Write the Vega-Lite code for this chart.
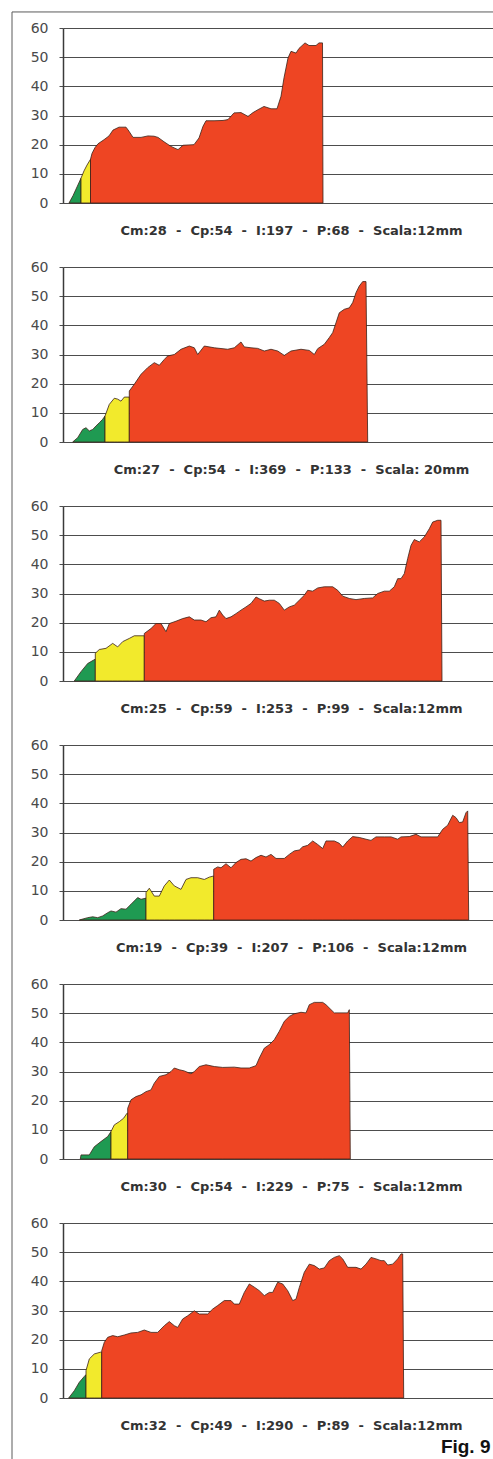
{
"$schema": "https://vega.github.io/schema/vega-lite/v6.json",
"padding": {"left": 11, "top": 11, "right": 0, "bottom": 0},
"background": "white",
"bounds": "flush",
"spacing": 64,
"config": {
  "view": {"stroke": null},
  "axisY": {"domainColor": "#3a3a3a", "domainWidth": 1.5, "gridColor": "#4d4d4d", "gridWidth": 1.2, "tickColor": "#4d4d4d", "tickSize": 4, "labelFont": "DejaVu Sans", "labelFontSize": 14, "labelColor": "#4a4a4a", "labelPadding": 11},
  "axisX": {"domainColor": "#4d4d4d", "domainWidth": 1.2, "titleFont": "DejaVu Sans", "titleFontSize": 13, "titleFontWeight": "bold", "titleColor": "#333333", "titlePadding": 21, "titleX": 228}
},
"title": {"text": "Fig. 9", "orient": "bottom", "anchor": "end", "baseline": "top", "font": "Liberation Sans Narrow, Liberation Sans", "fontSize": 19, "fontWeight": "bold", "color": "#111111", "offset": -24, "dx": -4},
"datasets": {"profiles": [
{"p":1,"z":"verde","x":6,"y":0},{"p":1,"z":"verde","x":10,"y":2.5},{"p":1,"z":"verde","x":14,"y":5.5},{"p":1,"z":"verde","x":18,"y":8.5},
{"p":1,"z":"giallo","x":18,"y":8.5},{"p":1,"z":"giallo","x":21,"y":11},{"p":1,"z":"giallo","x":24,"y":13},{"p":1,"z":"giallo","x":27.5,"y":15},
{"p":1,"z":"rosso","x":27.5,"y":15},{"p":1,"z":"rosso","x":29,"y":17},{"p":1,"z":"rosso","x":32,"y":19},{"p":1,"z":"rosso","x":35,"y":20.3},{"p":1,"z":"rosso","x":41,"y":21.7},{"p":1,"z":"rosso","x":46,"y":23},{"p":1,"z":"rosso","x":50,"y":25},{"p":1,"z":"rosso","x":56,"y":26},{"p":1,"z":"rosso","x":63,"y":26},{"p":1,"z":"rosso","x":66,"y":24.6},{"p":1,"z":"rosso","x":70,"y":22.5},{"p":1,"z":"rosso","x":78,"y":22.5},{"p":1,"z":"rosso","x":85,"y":23},{"p":1,"z":"rosso","x":91,"y":22.9},{"p":1,"z":"rosso","x":95,"y":22.5},{"p":1,"z":"rosso","x":101,"y":21},{"p":1,"z":"rosso","x":108,"y":19.4},{"p":1,"z":"rosso","x":115,"y":18.3},{"p":1,"z":"rosso","x":120,"y":19.8},{"p":1,"z":"rosso","x":131,"y":20},{"p":1,"z":"rosso","x":136,"y":22.3},{"p":1,"z":"rosso","x":140,"y":26.3},{"p":1,"z":"rosso","x":143,"y":28.2},{"p":1,"z":"rosso","x":151,"y":28.2},{"p":1,"z":"rosso","x":160,"y":28.3},{"p":1,"z":"rosso","x":165,"y":28.6},{"p":1,"z":"rosso","x":171,"y":30.9},{"p":1,"z":"rosso","x":178,"y":31},{"p":1,"z":"rosso","x":185,"y":29.7},{"p":1,"z":"rosso","x":190,"y":31},{"p":1,"z":"rosso","x":195,"y":32},{"p":1,"z":"rosso","x":201,"y":33.1},{"p":1,"z":"rosso","x":208,"y":32.3},{"p":1,"z":"rosso","x":214,"y":32.3},{"p":1,"z":"rosso","x":218,"y":36.6},{"p":1,"z":"rosso","x":221,"y":42.9},{"p":1,"z":"rosso","x":225,"y":49.7},{"p":1,"z":"rosso","x":228,"y":52},{"p":1,"z":"rosso","x":233,"y":51.4},{"p":1,"z":"rosso","x":236,"y":53},{"p":1,"z":"rosso","x":242,"y":54.9},{"p":1,"z":"rosso","x":246,"y":54},{"p":1,"z":"rosso","x":253,"y":54},{"p":1,"z":"rosso","x":256,"y":54.9},{"p":1,"z":"rosso","x":259.5,"y":54.9},{"p":1,"z":"rosso","x":260,"y":0},
{"p":2,"z":"verde","x":9.7,"y":0},{"p":2,"z":"verde","x":14.7,"y":1.5},{"p":2,"z":"verde","x":19.7,"y":4.3},{"p":2,"z":"verde","x":23,"y":4.9},{"p":2,"z":"verde","x":26.3,"y":3.8},{"p":2,"z":"verde","x":29.7,"y":4.3},{"p":2,"z":"verde","x":33,"y":5.5},{"p":2,"z":"verde","x":36.3,"y":6.6},{"p":2,"z":"verde","x":39.7,"y":7.8},{"p":2,"z":"verde","x":42,"y":8.9},
{"p":2,"z":"giallo","x":42,"y":8.9},{"p":2,"z":"giallo","x":46.3,"y":12.9},{"p":2,"z":"giallo","x":51.3,"y":15},{"p":2,"z":"giallo","x":54.7,"y":14.7},{"p":2,"z":"giallo","x":58,"y":14},{"p":2,"z":"giallo","x":61.3,"y":15.4},{"p":2,"z":"giallo","x":66.3,"y":15.4},
{"p":2,"z":"rosso","x":66.3,"y":17.5},{"p":2,"z":"rosso","x":71.3,"y":19.8},{"p":2,"z":"rosso","x":78,"y":23.2},{"p":2,"z":"rosso","x":84.7,"y":25.5},{"p":2,"z":"rosso","x":91.3,"y":27.2},{"p":2,"z":"rosso","x":96.3,"y":26.3},{"p":2,"z":"rosso","x":101.3,"y":28.3},{"p":2,"z":"rosso","x":104.7,"y":29.5},{"p":2,"z":"rosso","x":111.3,"y":30},{"p":2,"z":"rosso","x":118,"y":31.8},{"p":2,"z":"rosso","x":126.3,"y":32.9},{"p":2,"z":"rosso","x":131.3,"y":32.3},{"p":2,"z":"rosso","x":134.7,"y":30},{"p":2,"z":"rosso","x":141.3,"y":32.9},{"p":2,"z":"rosso","x":151.3,"y":32.3},{"p":2,"z":"rosso","x":164.7,"y":31.8},{"p":2,"z":"rosso","x":171.3,"y":32.3},{"p":2,"z":"rosso","x":178,"y":34.3},{"p":2,"z":"rosso","x":181.3,"y":32.6},{"p":2,"z":"rosso","x":188,"y":32.3},{"p":2,"z":"rosso","x":194.7,"y":32.1},{"p":2,"z":"rosso","x":201.3,"y":31.2},{"p":2,"z":"rosso","x":208,"y":31.8},{"p":2,"z":"rosso","x":214.7,"y":31.2},{"p":2,"z":"rosso","x":221.3,"y":29.7},{"p":2,"z":"rosso","x":228,"y":31.2},{"p":2,"z":"rosso","x":238,"y":31.8},{"p":2,"z":"rosso","x":246.3,"y":31.4},{"p":2,"z":"rosso","x":251.3,"y":30},{"p":2,"z":"rosso","x":254.7,"y":32},{"p":2,"z":"rosso","x":261.3,"y":33.5},{"p":2,"z":"rosso","x":266.3,"y":35.8},{"p":2,"z":"rosso","x":269.7,"y":37.5},{"p":2,"z":"rosso","x":273,"y":40.9},{"p":2,"z":"rosso","x":276.3,"y":44.3},{"p":2,"z":"rosso","x":281.3,"y":45.5},{"p":2,"z":"rosso","x":286.3,"y":46},{"p":2,"z":"rosso","x":289.7,"y":47.8},{"p":2,"z":"rosso","x":293,"y":51.2},{"p":2,"z":"rosso","x":296.3,"y":53.5},{"p":2,"z":"rosso","x":299.7,"y":55},{"p":2,"z":"rosso","x":303,"y":55},{"p":2,"z":"rosso","x":304.7,"y":0},
{"p":3,"z":"verde","x":11.3,"y":0},{"p":3,"z":"verde","x":18,"y":3.2},{"p":3,"z":"verde","x":24.7,"y":6},{"p":3,"z":"verde","x":30.7,"y":7.2},{"p":3,"z":"verde","x":32.3,"y":7.5},
{"p":3,"z":"giallo","x":32.3,"y":9.5},{"p":3,"z":"giallo","x":36.3,"y":10.8},{"p":3,"z":"giallo","x":43,"y":11.2},{"p":3,"z":"giallo","x":49.7,"y":12.9},{"p":3,"z":"giallo","x":54.7,"y":11.7},{"p":3,"z":"giallo","x":59.7,"y":13.5},{"p":3,"z":"giallo","x":66.3,"y":14.6},{"p":3,"z":"giallo","x":71.3,"y":15.5},{"p":3,"z":"giallo","x":81.3,"y":15.5},
{"p":3,"z":"rosso","x":81.3,"y":16.3},{"p":3,"z":"rosso","x":88,"y":18},{"p":3,"z":"rosso","x":93,"y":19.7},{"p":3,"z":"rosso","x":98,"y":19.7},{"p":3,"z":"rosso","x":103,"y":16.9},{"p":3,"z":"rosso","x":106.3,"y":19.7},{"p":3,"z":"rosso","x":113,"y":20.5},{"p":3,"z":"rosso","x":119.7,"y":21.4},{"p":3,"z":"rosso","x":126.3,"y":22},{"p":3,"z":"rosso","x":131.3,"y":20.9},{"p":3,"z":"rosso","x":138,"y":20.9},{"p":3,"z":"rosso","x":143,"y":20.3},{"p":3,"z":"rosso","x":148,"y":21.7},{"p":3,"z":"rosso","x":153,"y":22},{"p":3,"z":"rosso","x":156.3,"y":24.3},{"p":3,"z":"rosso","x":159.7,"y":22.6},{"p":3,"z":"rosso","x":163,"y":21.4},{"p":3,"z":"rosso","x":168,"y":22},{"p":3,"z":"rosso","x":173,"y":23.1},{"p":3,"z":"rosso","x":178,"y":24.3},{"p":3,"z":"rosso","x":183,"y":25.4},{"p":3,"z":"rosso","x":188,"y":26.6},{"p":3,"z":"rosso","x":193,"y":28.8},{"p":3,"z":"rosso","x":196.3,"y":28.2},{"p":3,"z":"rosso","x":201.3,"y":27.4},{"p":3,"z":"rosso","x":206.3,"y":27.7},{"p":3,"z":"rosso","x":211.3,"y":27.7},{"p":3,"z":"rosso","x":216.3,"y":26.6},{"p":3,"z":"rosso","x":221.3,"y":24.3},{"p":3,"z":"rosso","x":226.3,"y":25.4},{"p":3,"z":"rosso","x":231.3,"y":26},{"p":3,"z":"rosso","x":236.3,"y":27.7},{"p":3,"z":"rosso","x":241.3,"y":29.4},{"p":3,"z":"rosso","x":244.7,"y":31.1},{"p":3,"z":"rosso","x":249.7,"y":30.8},{"p":3,"z":"rosso","x":254.7,"y":31.9},{"p":3,"z":"rosso","x":261.3,"y":32.3},{"p":3,"z":"rosso","x":269.7,"y":32.3},{"p":3,"z":"rosso","x":274.7,"y":31.1},{"p":3,"z":"rosso","x":279.7,"y":29.1},{"p":3,"z":"rosso","x":286.3,"y":28.3},{"p":3,"z":"rosso","x":293,"y":27.9},{"p":3,"z":"rosso","x":301.3,"y":28.3},{"p":3,"z":"rosso","x":309.7,"y":28.5},{"p":3,"z":"rosso","x":314.7,"y":30},{"p":3,"z":"rosso","x":321.3,"y":30.8},{"p":3,"z":"rosso","x":326.3,"y":30.8},{"p":3,"z":"rosso","x":331.3,"y":32.3},{"p":3,"z":"rosso","x":334.7,"y":35.1},{"p":3,"z":"rosso","x":338,"y":35.1},{"p":3,"z":"rosso","x":341.3,"y":36.8},{"p":3,"z":"rosso","x":344.7,"y":42},{"p":3,"z":"rosso","x":348,"y":46.5},{"p":3,"z":"rosso","x":351.3,"y":48.5},{"p":3,"z":"rosso","x":356.3,"y":47.7},{"p":3,"z":"rosso","x":361.3,"y":49.4},{"p":3,"z":"rosso","x":366.3,"y":52.2},{"p":3,"z":"rosso","x":369.7,"y":54.5},{"p":3,"z":"rosso","x":374.7,"y":55.1},{"p":3,"z":"rosso","x":378,"y":55.1},{"p":3,"z":"rosso","x":379,"y":0},
{"p":4,"z":"verde","x":16.3,"y":0},{"p":4,"z":"verde","x":24.7,"y":0.8},{"p":4,"z":"verde","x":29.7,"y":1.1},{"p":4,"z":"verde","x":34.7,"y":0.8},{"p":4,"z":"verde","x":39.7,"y":1.4},{"p":4,"z":"verde","x":44.7,"y":2.5},{"p":4,"z":"verde","x":48,"y":3.1},{"p":4,"z":"verde","x":53,"y":2.7},{"p":4,"z":"verde","x":58,"y":3.9},{"p":4,"z":"verde","x":63,"y":3.7},{"p":4,"z":"verde","x":68,"y":5.4},{"p":4,"z":"verde","x":74.7,"y":7.7},{"p":4,"z":"verde","x":78,"y":7.1},{"p":4,"z":"verde","x":83,"y":7.5},
{"p":4,"z":"giallo","x":83,"y":9.4},{"p":4,"z":"giallo","x":86.3,"y":10.9},{"p":4,"z":"giallo","x":91.3,"y":8.2},{"p":4,"z":"giallo","x":96.3,"y":8.2},{"p":4,"z":"giallo","x":101.3,"y":11.7},{"p":4,"z":"giallo","x":106.3,"y":13.7},{"p":4,"z":"giallo","x":111.3,"y":11.7},{"p":4,"z":"giallo","x":118,"y":10.5},{"p":4,"z":"giallo","x":123,"y":13.9},{"p":4,"z":"giallo","x":128,"y":14.5},{"p":4,"z":"giallo","x":134.7,"y":14.5},{"p":4,"z":"giallo","x":141.3,"y":13.9},{"p":4,"z":"giallo","x":146.3,"y":14.7},{"p":4,"z":"giallo","x":150.7,"y":15.1},
{"p":4,"z":"rosso","x":150.7,"y":17.4},{"p":4,"z":"rosso","x":154.7,"y":18.2},{"p":4,"z":"rosso","x":158,"y":17.9},{"p":4,"z":"rosso","x":163,"y":19.3},{"p":4,"z":"rosso","x":168,"y":17.9},{"p":4,"z":"rosso","x":173,"y":19.7},{"p":4,"z":"rosso","x":178,"y":20.8},{"p":4,"z":"rosso","x":183,"y":21},{"p":4,"z":"rosso","x":188,"y":20.2},{"p":4,"z":"rosso","x":193,"y":21.4},{"p":4,"z":"rosso","x":198,"y":22.2},{"p":4,"z":"rosso","x":203,"y":21.6},{"p":4,"z":"rosso","x":208,"y":22.5},{"p":4,"z":"rosso","x":213,"y":21.1},{"p":4,"z":"rosso","x":221.3,"y":21.1},{"p":4,"z":"rosso","x":226.3,"y":22.5},{"p":4,"z":"rosso","x":231.3,"y":23.7},{"p":4,"z":"rosso","x":236.3,"y":24},{"p":4,"z":"rosso","x":239.7,"y":25.1},{"p":4,"z":"rosso","x":244.7,"y":25.6},{"p":4,"z":"rosso","x":249.7,"y":27.1},{"p":4,"z":"rosso","x":254.7,"y":25.9},{"p":4,"z":"rosso","x":259.7,"y":24.5},{"p":4,"z":"rosso","x":263,"y":27.1},{"p":4,"z":"rosso","x":271.3,"y":27.1},{"p":4,"z":"rosso","x":276.3,"y":26.3},{"p":4,"z":"rosso","x":279.7,"y":25},{"p":4,"z":"rosso","x":284.7,"y":27.1},{"p":4,"z":"rosso","x":289.7,"y":28.6},{"p":4,"z":"rosso","x":296.3,"y":28.3},{"p":4,"z":"rosso","x":303,"y":27.7},{"p":4,"z":"rosso","x":308,"y":27.3},{"p":4,"z":"rosso","x":313,"y":28.5},{"p":4,"z":"rosso","x":321.3,"y":28.5},{"p":4,"z":"rosso","x":328,"y":28.5},{"p":4,"z":"rosso","x":334.7,"y":27.7},{"p":4,"z":"rosso","x":338,"y":28.5},{"p":4,"z":"rosso","x":346.3,"y":28.6},{"p":4,"z":"rosso","x":353,"y":29.4},{"p":4,"z":"rosso","x":358,"y":28.5},{"p":4,"z":"rosso","x":368,"y":28.5},{"p":4,"z":"rosso","x":374.7,"y":28.5},{"p":4,"z":"rosso","x":379.7,"y":31.1},{"p":4,"z":"rosso","x":384.7,"y":32.5},{"p":4,"z":"rosso","x":389.7,"y":35.9},{"p":4,"z":"rosso","x":393,"y":35.1},{"p":4,"z":"rosso","x":396.3,"y":33.4},{"p":4,"z":"rosso","x":399.7,"y":33.6},{"p":4,"z":"rosso","x":403,"y":36.8},{"p":4,"z":"rosso","x":404.7,"y":37.4},{"p":4,"z":"rosso","x":405.7,"y":0},
{"p":5,"z":"verde","x":17.3,"y":0},{"p":5,"z":"verde","x":18,"y":1.4},{"p":5,"z":"verde","x":26.3,"y":1.4},{"p":5,"z":"verde","x":31.3,"y":4.2},{"p":5,"z":"verde","x":38,"y":6},{"p":5,"z":"verde","x":44.7,"y":7.7},{"p":5,"z":"verde","x":48,"y":9.4},
{"p":5,"z":"giallo","x":48,"y":9.4},{"p":5,"z":"giallo","x":51.3,"y":11.7},{"p":5,"z":"giallo","x":56.3,"y":12.8},{"p":5,"z":"giallo","x":60.7,"y":14},{"p":5,"z":"giallo","x":64,"y":15.7},{"p":5,"z":"giallo","x":64.7,"y":15.7},
{"p":5,"z":"rosso","x":64.7,"y":17.4},{"p":5,"z":"rosso","x":68,"y":20.3},{"p":5,"z":"rosso","x":73,"y":21.4},{"p":5,"z":"rosso","x":78,"y":22},{"p":5,"z":"rosso","x":83,"y":23.1},{"p":5,"z":"rosso","x":88,"y":23.7},{"p":5,"z":"rosso","x":91.3,"y":26},{"p":5,"z":"rosso","x":96.3,"y":28.3},{"p":5,"z":"rosso","x":103,"y":28.9},{"p":5,"z":"rosso","x":108,"y":30},{"p":5,"z":"rosso","x":111.3,"y":31.2},{"p":5,"z":"rosso","x":116.3,"y":30.6},{"p":5,"z":"rosso","x":121.3,"y":30.2},{"p":5,"z":"rosso","x":128,"y":29.2},{"p":5,"z":"rosso","x":131.3,"y":30},{"p":5,"z":"rosso","x":136.3,"y":31.7},{"p":5,"z":"rosso","x":143,"y":32.3},{"p":5,"z":"rosso","x":151.3,"y":31.7},{"p":5,"z":"rosso","x":159.7,"y":31.4},{"p":5,"z":"rosso","x":171.3,"y":31.5},{"p":5,"z":"rosso","x":178,"y":31.2},{"p":5,"z":"rosso","x":186.3,"y":31.2},{"p":5,"z":"rosso","x":193,"y":32},{"p":5,"z":"rosso","x":196.3,"y":34.6},{"p":5,"z":"rosso","x":201.3,"y":38},{"p":5,"z":"rosso","x":206.3,"y":39.2},{"p":5,"z":"rosso","x":211.3,"y":40.9},{"p":5,"z":"rosso","x":216.3,"y":43.8},{"p":5,"z":"rosso","x":221.3,"y":47.2},{"p":5,"z":"rosso","x":226.3,"y":48.9},{"p":5,"z":"rosso","x":231.3,"y":49.8},{"p":5,"z":"rosso","x":238,"y":50.3},{"p":5,"z":"rosso","x":243,"y":50.1},{"p":5,"z":"rosso","x":246.3,"y":52.9},{"p":5,"z":"rosso","x":251.3,"y":53.7},{"p":5,"z":"rosso","x":259.7,"y":53.7},{"p":5,"z":"rosso","x":263,"y":52.9},{"p":5,"z":"rosso","x":268,"y":51.2},{"p":5,"z":"rosso","x":271.3,"y":50.1},{"p":5,"z":"rosso","x":278,"y":50.1},{"p":5,"z":"rosso","x":284.7,"y":50.1},{"p":5,"z":"rosso","x":286.3,"y":51.2},{"p":5,"z":"rosso","x":287.3,"y":0},
{"p":6,"z":"verde","x":5.7,"y":0},{"p":6,"z":"verde","x":11.3,"y":2.5},{"p":6,"z":"verde","x":16.3,"y":5.4},{"p":6,"z":"verde","x":21.3,"y":7.4},{"p":6,"z":"verde","x":23,"y":8},
{"p":6,"z":"giallo","x":23,"y":9.4},{"p":6,"z":"giallo","x":26.3,"y":13.4},{"p":6,"z":"giallo","x":31.3,"y":15.1},{"p":6,"z":"giallo","x":37.3,"y":15.7},{"p":6,"z":"giallo","x":38.7,"y":15.7},
{"p":6,"z":"rosso","x":38.7,"y":16.2},{"p":6,"z":"rosso","x":41.3,"y":19.1},{"p":6,"z":"rosso","x":44.7,"y":20.8},{"p":6,"z":"rosso","x":49.7,"y":21.4},{"p":6,"z":"rosso","x":54.7,"y":21},{"p":6,"z":"rosso","x":61.3,"y":21.6},{"p":6,"z":"rosso","x":68,"y":22.3},{"p":6,"z":"rosso","x":74.7,"y":22.5},{"p":6,"z":"rosso","x":81.3,"y":23.3},{"p":6,"z":"rosso","x":88,"y":22.5},{"p":6,"z":"rosso","x":94.7,"y":22.5},{"p":6,"z":"rosso","x":101.3,"y":24.8},{"p":6,"z":"rosso","x":106.3,"y":26.2},{"p":6,"z":"rosso","x":111.3,"y":24.8},{"p":6,"z":"rosso","x":114.7,"y":24.2},{"p":6,"z":"rosso","x":119.7,"y":27.1},{"p":6,"z":"rosso","x":124.7,"y":28.2},{"p":6,"z":"rosso","x":131.3,"y":29.9},{"p":6,"z":"rosso","x":136.3,"y":28.8},{"p":6,"z":"rosso","x":144.7,"y":28.8},{"p":6,"z":"rosso","x":149.7,"y":30.5},{"p":6,"z":"rosso","x":154.7,"y":31.7},{"p":6,"z":"rosso","x":161.3,"y":33.4},{"p":6,"z":"rosso","x":168,"y":33.4},{"p":6,"z":"rosso","x":171.3,"y":32.2},{"p":6,"z":"rosso","x":176.3,"y":32.2},{"p":6,"z":"rosso","x":181.3,"y":36.2},{"p":6,"z":"rosso","x":186.3,"y":39.1},{"p":6,"z":"rosso","x":191.3,"y":38},{"p":6,"z":"rosso","x":196.3,"y":36.8},{"p":6,"z":"rosso","x":201.3,"y":35.1},{"p":6,"z":"rosso","x":206.3,"y":36.2},{"p":6,"z":"rosso","x":209.7,"y":36.2},{"p":6,"z":"rosso","x":214.7,"y":39.7},{"p":6,"z":"rosso","x":219.7,"y":39.1},{"p":6,"z":"rosso","x":224.7,"y":36.8},{"p":6,"z":"rosso","x":229.7,"y":33.4},{"p":6,"z":"rosso","x":233,"y":33.9},{"p":6,"z":"rosso","x":236.3,"y":37.9},{"p":6,"z":"rosso","x":241.3,"y":43.1},{"p":6,"z":"rosso","x":246.3,"y":45.9},{"p":6,"z":"rosso","x":251.3,"y":45.4},{"p":6,"z":"rosso","x":256.3,"y":44.2},{"p":6,"z":"rosso","x":261.3,"y":44.6},{"p":6,"z":"rosso","x":266.3,"y":47.1},{"p":6,"z":"rosso","x":271.3,"y":48.2},{"p":6,"z":"rosso","x":276.3,"y":48.8},{"p":6,"z":"rosso","x":279.7,"y":47.7},{"p":6,"z":"rosso","x":284.7,"y":44.8},{"p":6,"z":"rosso","x":293,"y":44.8},{"p":6,"z":"rosso","x":298,"y":44.2},{"p":6,"z":"rosso","x":303,"y":45.9},{"p":6,"z":"rosso","x":308,"y":48.2},{"p":6,"z":"rosso","x":313,"y":47.7},{"p":6,"z":"rosso","x":318,"y":47.1},{"p":6,"z":"rosso","x":321.3,"y":47.1},{"p":6,"z":"rosso","x":324.7,"y":45.6},{"p":6,"z":"rosso","x":329.7,"y":45.9},{"p":6,"z":"rosso","x":334.7,"y":47.7},{"p":6,"z":"rosso","x":338,"y":49.4},{"p":6,"z":"rosso","x":339.7,"y":49.4},{"p":6,"z":"rosso","x":340.7,"y":0}
]},
"vconcat": [
{"width": 431, "height": 175,
 "layer": [
  {"data": {"name": "profiles"}, "transform": [{"filter": "datum.p == 1"}],
   "mark": {"type": "area", "stroke": "#3a2218", "strokeWidth": 0.8, "strokeJoin": "round"},
   "encoding": {
    "x": {"field": "x", "type": "quantitative", "scale": {"domain": [0, 431], "nice": false, "zero": false}, "axis": {"title": "Cm:28\u00a0\u00a0-\u00a0\u00a0Cp:54\u00a0\u00a0-\u00a0\u00a0I:197\u00a0\u00a0-\u00a0\u00a0P:68\u00a0\u00a0-\u00a0\u00a0Scala:12mm", "labels": false, "ticks": false, "grid": false}},
    "y": {"field": "y", "type": "quantitative", "stack": null, "scale": {"domain": [0, 60], "nice": false}, "axis": {"values": [0, 10, 20, 30, 40, 50, 60], "title": null}},
    "fill": {"field": "z", "type": "nominal", "scale": {"domain": ["verde", "giallo", "rosso"], "range": ["#1f9a52", "#f2ea2c", "#ee4523"]}, "legend": null}}},
  {"data": {"values": [{}]}, "mark": {"type": "rule", "color": "#5a5a5a", "strokeWidth": 1},
   "encoding": {
    "x": {"datum": -51, "type": "quantitative", "axis": {"title": "Cm:28\u00a0\u00a0-\u00a0\u00a0Cp:54\u00a0\u00a0-\u00a0\u00a0I:197\u00a0\u00a0-\u00a0\u00a0P:68\u00a0\u00a0-\u00a0\u00a0Scala:12mm", "labels": false, "ticks": false, "grid": false}},
    "x2": {"datum": 431},
    "y": {"datum": 65.5, "type": "quantitative", "axis": {"values": [0, 10, 20, 30, 40, 50, 60], "title": null}}}},
  {"data": {"values": [{}]}, "mark": {"type": "rule", "color": "#5a5a5a", "strokeWidth": 1},
   "encoding": {
    "x": {"datum": -51, "type": "quantitative", "axis": {"title": "Cm:28\u00a0\u00a0-\u00a0\u00a0Cp:54\u00a0\u00a0-\u00a0\u00a0I:197\u00a0\u00a0-\u00a0\u00a0P:68\u00a0\u00a0-\u00a0\u00a0Scala:12mm", "labels": false, "ticks": false, "grid": false}},
    "y": {"datum": 65.5, "type": "quantitative", "axis": {"values": [0, 10, 20, 30, 40, 50, 60], "title": null}},
    "y2": {"datum": -431.5}}}
 ]},
{"width": 431, "height": 175, "data": {"name": "profiles"}, "transform": [{"filter": "datum.p == 2"}],
 "mark": {"type": "area", "stroke": "#3a2218", "strokeWidth": 0.8, "strokeJoin": "round"},
 "encoding": {
  "x": {"field": "x", "type": "quantitative", "scale": {"domain": [0, 431], "nice": false, "zero": false}, "axis": {"title": "Cm:27\u00a0\u00a0-\u00a0\u00a0Cp:54\u00a0\u00a0-\u00a0\u00a0I:369\u00a0\u00a0-\u00a0\u00a0P:133\u00a0\u00a0-\u00a0\u00a0Scala: 20mm", "labels": false, "ticks": false, "grid": false}},
  "y": {"field": "y", "type": "quantitative", "stack": null, "scale": {"domain": [0, 60], "nice": false}, "axis": {"values": [0, 10, 20, 30, 40, 50, 60], "title": null}},
  "fill": {"field": "z", "type": "nominal", "scale": {"domain": ["verde", "giallo", "rosso"], "range": ["#1f9a52", "#f2ea2c", "#ee4523"]}, "legend": null}}},
{"width": 431, "height": 175, "data": {"name": "profiles"}, "transform": [{"filter": "datum.p == 3"}],
 "mark": {"type": "area", "stroke": "#3a2218", "strokeWidth": 0.8, "strokeJoin": "round"},
 "encoding": {
  "x": {"field": "x", "type": "quantitative", "scale": {"domain": [0, 431], "nice": false, "zero": false}, "axis": {"title": "Cm:25\u00a0\u00a0-\u00a0\u00a0Cp:59\u00a0\u00a0-\u00a0\u00a0I:253\u00a0\u00a0-\u00a0\u00a0P:99\u00a0\u00a0-\u00a0\u00a0Scala:12mm", "labels": false, "ticks": false, "grid": false}},
  "y": {"field": "y", "type": "quantitative", "stack": null, "scale": {"domain": [0, 60], "nice": false}, "axis": {"values": [0, 10, 20, 30, 40, 50, 60], "title": null}},
  "fill": {"field": "z", "type": "nominal", "scale": {"domain": ["verde", "giallo", "rosso"], "range": ["#1f9a52", "#f2ea2c", "#ee4523"]}, "legend": null}}},
{"width": 431, "height": 175, "data": {"name": "profiles"}, "transform": [{"filter": "datum.p == 4"}],
 "mark": {"type": "area", "stroke": "#3a2218", "strokeWidth": 0.8, "strokeJoin": "round"},
 "encoding": {
  "x": {"field": "x", "type": "quantitative", "scale": {"domain": [0, 431], "nice": false, "zero": false}, "axis": {"title": "Cm:19\u00a0\u00a0-\u00a0\u00a0Cp:39\u00a0\u00a0-\u00a0\u00a0I:207\u00a0\u00a0-\u00a0\u00a0P:106\u00a0\u00a0-\u00a0\u00a0Scala:12mm", "labels": false, "ticks": false, "grid": false}},
  "y": {"field": "y", "type": "quantitative", "stack": null, "scale": {"domain": [0, 60], "nice": false}, "axis": {"values": [0, 10, 20, 30, 40, 50, 60], "title": null}},
  "fill": {"field": "z", "type": "nominal", "scale": {"domain": ["verde", "giallo", "rosso"], "range": ["#1f9a52", "#f2ea2c", "#ee4523"]}, "legend": null}}},
{"width": 431, "height": 175, "data": {"name": "profiles"}, "transform": [{"filter": "datum.p == 5"}],
 "mark": {"type": "area", "stroke": "#3a2218", "strokeWidth": 0.8, "strokeJoin": "round"},
 "encoding": {
  "x": {"field": "x", "type": "quantitative", "scale": {"domain": [0, 431], "nice": false, "zero": false}, "axis": {"title": "Cm:30\u00a0\u00a0-\u00a0\u00a0Cp:54\u00a0\u00a0-\u00a0\u00a0I:229\u00a0\u00a0-\u00a0\u00a0P:75\u00a0\u00a0-\u00a0\u00a0Scala:12mm", "labels": false, "ticks": false, "grid": false}},
  "y": {"field": "y", "type": "quantitative", "stack": null, "scale": {"domain": [0, 60], "nice": false}, "axis": {"values": [0, 10, 20, 30, 40, 50, 60], "title": null}},
  "fill": {"field": "z", "type": "nominal", "scale": {"domain": ["verde", "giallo", "rosso"], "range": ["#1f9a52", "#f2ea2c", "#ee4523"]}, "legend": null}}},
{"width": 431, "height": 175, "data": {"name": "profiles"}, "transform": [{"filter": "datum.p == 6"}],
 "mark": {"type": "area", "stroke": "#3a2218", "strokeWidth": 0.8, "strokeJoin": "round"},
 "encoding": {
  "x": {"field": "x", "type": "quantitative", "scale": {"domain": [0, 431], "nice": false, "zero": false}, "axis": {"title": "Cm:32\u00a0\u00a0-\u00a0\u00a0Cp:49\u00a0\u00a0-\u00a0\u00a0I:290\u00a0\u00a0-\u00a0\u00a0P:89\u00a0\u00a0-\u00a0\u00a0Scala:12mm", "labels": false, "ticks": false, "grid": false}},
  "y": {"field": "y", "type": "quantitative", "stack": null, "scale": {"domain": [0, 60], "nice": false}, "axis": {"values": [0, 10, 20, 30, 40, 50, 60], "title": null}},
  "fill": {"field": "z", "type": "nominal", "scale": {"domain": ["verde", "giallo", "rosso"], "range": ["#1f9a52", "#f2ea2c", "#ee4523"]}, "legend": null}}}
]
}
